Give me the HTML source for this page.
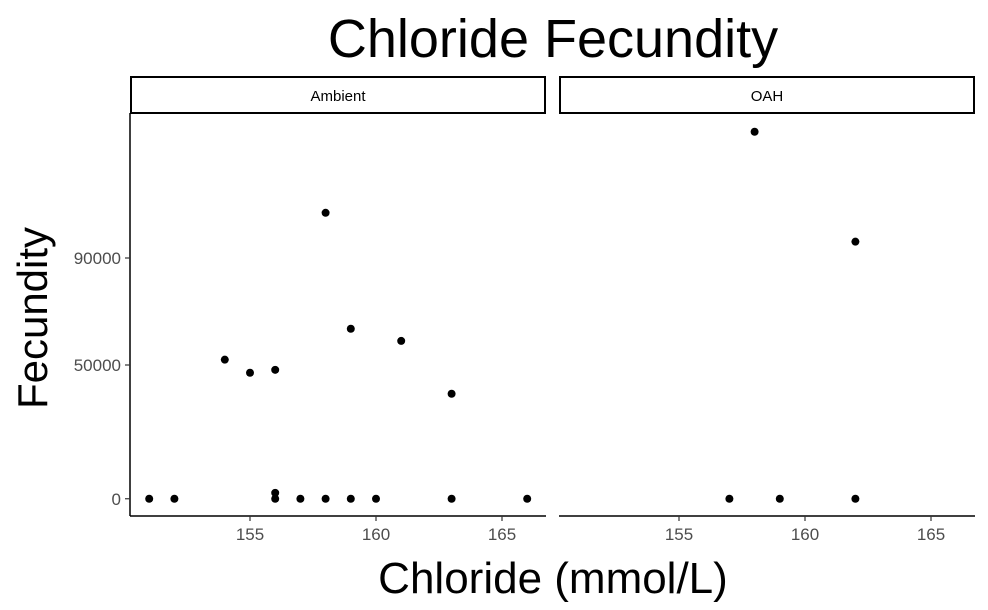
<!DOCTYPE html>
<html><head><meta charset="utf-8"><style>body{margin:0;background:#fff}svg{display:block}</style></head>
<body>
<svg id="chart" width="988" height="610" xmlns="http://www.w3.org/2000/svg" font-family="Liberation Sans, sans-serif">
<text x="553" y="57" font-size="54" text-anchor="middle">Chloride Fecundity</text>
<text x="553" y="593" font-size="44" text-anchor="middle">Chloride (mmol/L)</text>
<text transform="translate(47,318) rotate(-90)" font-size="42" text-anchor="middle">Fecundity</text>
<g id="g"></g>
</svg>
<script>
const panels = ["Ambient", "OAH"];
const ambientX = [151,152,154,155,156,156,156,157,158,158,159,159,160,161,163,163,166];
const ambientY = [0,0,52000,47100,48200,2200,0,0,0,106900,63550,0,0,59000,39250,0,0];
const oahX = [157,158,159,162,162];
const oahY = [0,137200,0,96100,0];
const xTicks = [155,160,165];
const yTicks = [0,50000,90000];
const NS="http://www.w3.org/2000/svg";
const g=document.getElementById('g');
function el(t,a,p){const e=document.createElementNS(NS,t);for(const k in a)e.setAttribute(k,a[k]);(p||g).appendChild(e);return e;}
const panelLeft=[130,559], panelW=416, panelTop=113, panelBottom=516;
function xs(v,i){return panelLeft[i]+120+(v-155)*25.2;}
function ys(v){return 498.75-v*0.002675;}
const data=[[ambientX,ambientY],[oahX,oahY]];
panels.forEach((name,i)=>{
  const L=panelLeft[i];
  const s=el('rect',{x:L+1,y:77,width:panelW-2,height:36,fill:'#fff',stroke:'#000','stroke-width':2});
  
  
  const st=el('text',{x:L+panelW/2,y:101,'font-size':15,'text-anchor':'middle'});
  st.textContent=name;
  
  
  const xa=el('line',{x1:L,x2:L+panelW,y1:panelBottom,y2:panelBottom,stroke:'#000','stroke-width':1.5});
  
  
  xTicks.forEach(t=>{
    const x=xs(t,i);
    el('line',{x1:x,x2:x,y1:panelBottom,y2:panelBottom+5,stroke:'#333','stroke-width':1.2});
    const tl=el('text',{x:x,y:panelBottom+24,'font-size':17,fill:'#4d4d4d','text-anchor':'middle'});
    tl.textContent=t;
    
    
  });
  const [X,Y]=data[i];
  X.forEach((v,j)=>{
    const c=el('circle',{cx:xs(v,i),cy:ys(Y[j]),r:4,fill:'#000'});
    
    
  });
});
const ya=el('line',{x1:130,x2:130,y1:panelTop,y2:panelBottom,stroke:'#000','stroke-width':1.5});


yTicks.forEach(t=>{
  const y=ys(t);
  el('line',{x1:125,x2:130,y1:y,y2:y,stroke:'#333','stroke-width':1.2});
  const tl=el('text',{x:121,y:y+6,'font-size':17,fill:'#4d4d4d','text-anchor':'end'});
  tl.textContent=t;
  
  
});
</script>
</body></html>
